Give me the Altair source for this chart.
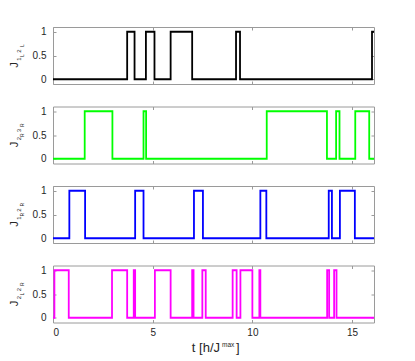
import altair as alt
import pandas as pd

T_END = 16.1
x_ticks = [0, 5, 10, 15]
y_ticks = [0, 0.5, 1]

# switching times (state flips 0 <-> 1), every series starts at 0
j_1L2L = [3.72, 4.09, 4.66, 5.09, 5.90, 6.98, 9.18, 9.38, 16.0]
j_2R3R = [1.59, 2.98, 4.54, 4.67, 10.72, 13.74, 14.20, 14.37, 15.16, 15.86]
j_1R2R = [0.82, 1.61, 4.12, 4.54, 7.07, 7.52, 10.40, 10.70, 13.83, 13.99, 14.39, 15.14]
j_2L2R = [0.07, 0.79, 2.96, 3.72, 4.05, 4.12, 5.11, 5.90, 6.98, 7.05, 7.49, 7.66,
          9.01, 9.21, 9.40, 10.0, 10.35, 10.40, 13.75, 13.85, 14.10, 14.22]

series = [j_1L2L, j_2R3R, j_1R2R, j_2L2R]
colors = ["#000000", "#00ff00", "#0000ff", "#ff00ff"]
subs = [("1", "L", "2", "L"), ("2", "R", "3", "R"), ("1", "R", "2", "R"), ("2", "L", "2", "R")]

FONT = "Liberation Sans"
FRAME = "#9a9a9a"
TXT = "#262626"
W, H = 321, 57

xs = alt.Scale(domain=[0, T_END], nice=False, zero=False)
ys = alt.Scale(domain=[-0.1, 1.1], nice=False, zero=False)


def make_df(toggles):
    t = [0.0] + list(toggles) + [T_END]
    v = [0]
    for _ in toggles:
        v.append(1 - v[-1])
    v.append(v[-1])
    return pd.DataFrame({"t": t, "v": v})


def ax(orient, labels, vals, pad=0):
    kw = dict(orient=orient, labels=labels, values=vals, domain=False, grid=False,
              ticks=True, tickSize=3, offset=-3, tickColor=FRAME, title=None)
    if labels:
        kw.update(labelFont=FONT, labelFontSize=10, labelColor=TXT, labelPadding=pad, format="~g")
    return alt.Axis(**kw)


one = pd.DataFrame({"k": [0]})


def txt(s, x, y, size, angle=None, align="center", baseline="middle"):
    kw = dict(text=s, font=FONT, fontSize=size, color=TXT, align=align, baseline=baseline)
    if angle is not None:
        kw["angle"] = angle
    return alt.Chart(one).mark_text(**kw).encode(x=alt.value(x), y=alt.value(y))


panels = []
for i, (tog, col, sb) in enumerate(zip(series, colors, subs)):
    df = make_df(tog)
    bottom = i == len(series) - 1
    line = alt.Chart(df).mark_line(interpolate="step-after", color=col, strokeWidth=1.8, clip=True).encode(
        x=alt.X("t:Q", scale=xs, axis=ax("bottom", bottom, x_ticks, 5)),
        y=alt.Y("v:Q", scale=ys, axis=ax("left", True, y_ticks, 7)),
    )
    mirror = alt.Chart(df).mark_line(opacity=0).encode(
        x=alt.X("t:Q", scale=xs, axis=ax("top", False, x_ticks)),
        y=alt.Y("v:Q", scale=ys, axis=ax("right", False, y_ticks)),
    )
    layers = [line, mirror,
              txt("J", -38.5, 38, 11, 270),
              txt(sb[0], -34.3, 32, 6, 270),
              txt(sb[1], -30.5, 28.5, 4.5, 270),
              txt(sb[2], -34.3, 24, 6, 270),
              txt(sb[3], -30.5, 18.5, 4.5, 270)]
    if bottom:
        layers += [txt("t [h/J", 167, 86, 13, align="right", baseline="alphabetic"),
                   txt("max", 169, 81, 6.5, align="left", baseline="alphabetic"),
                   txt("]", 183, 86, 13, align="left", baseline="alphabetic")]
    p = alt.layer(*layers).resolve_axis(x="independent", y="independent").properties(width=W, height=H)
    panels.append(p)

chart = alt.vconcat(*panels, spacing=20.5).properties(
    padding={"left": 0, "top": 18, "right": 5, "bottom": 5}
).configure_view(stroke=FRAME, strokeWidth=1)

chart.save("out.html", embed_options={"renderer": "svg", "actions": False})
